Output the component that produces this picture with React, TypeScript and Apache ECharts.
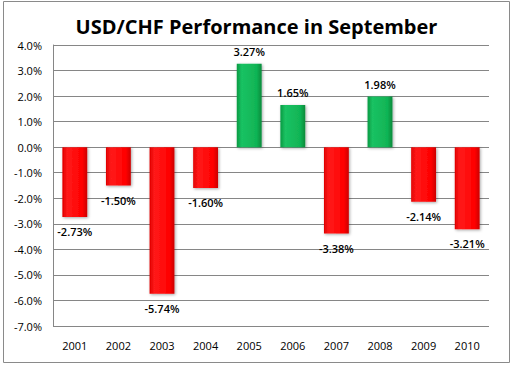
import React, { useEffect, useRef } from "react";
import * as echarts from "echarts";

const years = ["2001", "2002", "2003", "2004", "2005", "2006", "2007", "2008", "2009", "2010"];
const values = [-2.73, -1.5, -5.74, -1.6, 3.27, 1.65, -3.38, 1.98, -2.14, -3.21];
const titleText = "USD/CHF Performance in September";

const FONT = "'Open Sans', 'Noto Sans', sans-serif";

function barColor(v: number) {
  if (v >= 0) {
    return new echarts.graphic.LinearGradient(0, 0, 1, 0, [
      { offset: 0, color: "#079a42" },
      { offset: 0.2, color: "#1ac263" },
      { offset: 0.8, color: "#10b455" },
      { offset: 1, color: "#078a3a" },
    ]);
  }
  return new echarts.graphic.LinearGradient(0, 0, 1, 0, [
    { offset: 0, color: "#e00000" },
    { offset: 0.2, color: "#ff1a1a" },
    { offset: 0.8, color: "#ff0000" },
    { offset: 1, color: "#cc0000" },
  ]);
}

export default function App() {
  const ref = useRef<HTMLDivElement>(null);
  useEffect(() => {
    document.body.style.margin = "0";
    const chart = echarts.init(ref.current!, undefined, { renderer: "svg" });
    chart.setOption({
      animation: false,
      backgroundColor: "#ffffff",
      title: {
        text: titleText,
        left: "center",
        top: 11,
        textStyle: { fontFamily: FONT, fontWeight: "bold", fontSize: 20, color: "#000" },
      },
      grid: { left: 53, right: 24, top: 45, bottom: 39, containLabel: false },
      xAxis: {
        type: "category",
        data: years,
        position: "bottom",
        axisLine: { show: false },
        axisTick: { show: false },
        axisLabel: { fontFamily: FONT, fontSize: 11, color: "#000", margin: 14 },
      },
      yAxis: {
        type: "value",
        min: -7,
        max: 4,
        interval: 1,
        axisLine: { show: true, lineStyle: { color: "#868686" } },
        axisTick: { show: false },
        splitLine: { show: true, lineStyle: { color: "#868686", width: 1 } },
        axisLabel: {
          fontFamily: FONT,
          fontSize: 11,
          color: "#000",
          margin: 11,
          formatter: (v: number) => v.toFixed(1) + "%",
        },
      },
      series: [
        {
          type: "bar",
          barWidth: "57%",
          data: values.map((v) => ({
            value: v,
            itemStyle: {
              color: barColor(v),
              shadowColor: "rgba(0,0,0,0.35)",
              shadowBlur: 3,
              shadowOffsetX: 1,
              shadowOffsetY: 1,
            },
            label: {
              show: true,
              position: v >= 0 ? "top" : "bottom",
              distance: v >= 0 ? 7 : 9,
              formatter: v.toFixed(2) + "%",
              fontFamily: FONT,
              fontSize: 11,
              fontWeight: 600,
              color: "#000",
            },
          })),
        },
      ],
      graphic: [
        {
          type: "rect",
          shape: { x: 3.5, y: 1.5, width: 506, height: 361 },
          style: { fill: "none", stroke: "#8a8a8a", lineWidth: 1 },
          silent: true,
        },
      ],
    });
    return () => chart.dispose();
  }, []);
  return <div ref={ref} style={{ width: 513, height: 365 }} />;
}
